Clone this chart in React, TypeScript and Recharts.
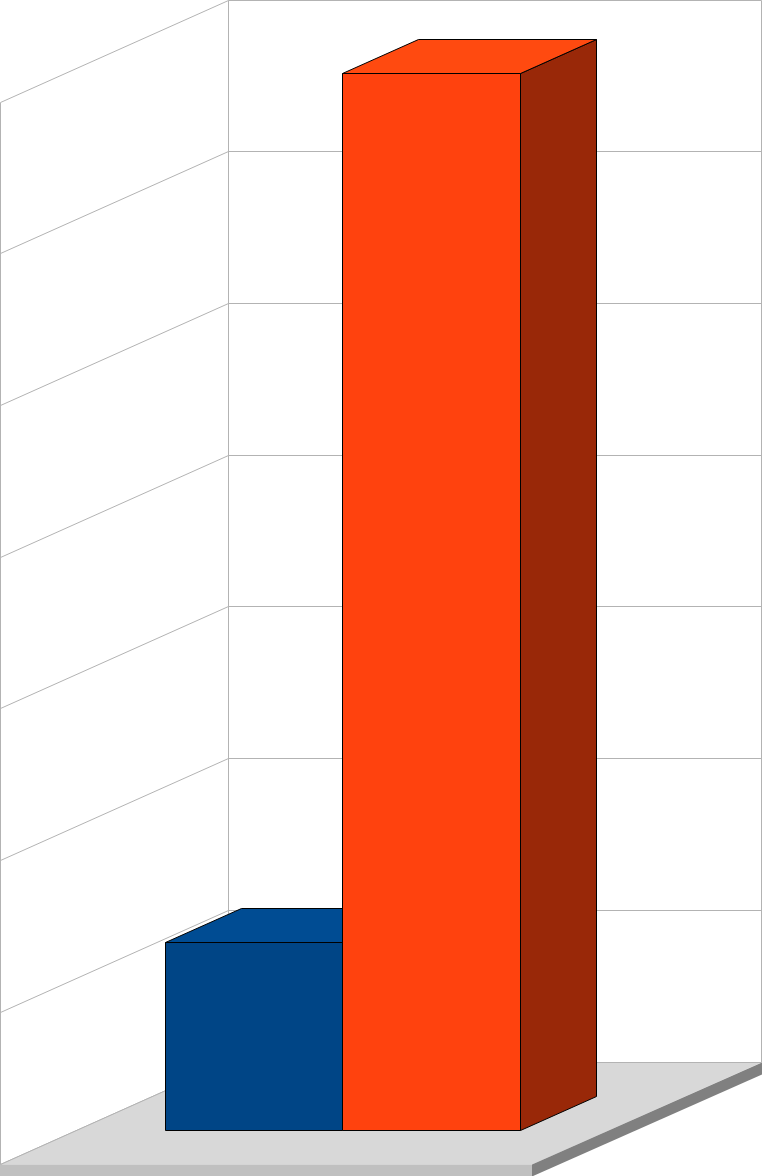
import React from "react";
import { BarChart, Bar, XAxis, YAxis, CartesianGrid, ReferenceArea } from "recharts";

const categories = ["Category 1"];
const series1 = [1.235];
const series2 = [6.965];
const yTicks = [0, 1, 2, 3, 4, 5, 6, 7];

const data = categories.map((name, i) => ({
  name,
  series1: series1[i],
  series2: series2[i],
}));

const W = 762;
const H = 1176;
const wallLine = "#b3b3b3";

// side wall runs from the back wall out to the left edge
const SIDE_DX = 228;
const SIDE_DY = 102;
// bars stand in front of the back wall
const FRONT_DX = -152.5;
const FRONT_DY = 68;
const BAR_DX = 76;
const BAR_DY = 34;
const SLAB = 12;

const snap = (v: number) => Math.floor(v) + 0.5;
const pts = (list: number[][]) => list.map((p) => p.join(",")).join(" ");

const Bar3D = (props: any) => {
  const { x, y, width, height, fill, topFill, sideFill } = props;
  const l = snap(x + FRONT_DX);
  const r = snap(x + width + FRONT_DX);
  const t = snap(y + FRONT_DY);
  const b = snap(y + height + FRONT_DY);
  return (
    <g stroke='#000' strokeWidth={1} strokeLinejoin='round'>
      <polygon
        points={pts([[r, t], [r + BAR_DX, t - BAR_DY], [r + BAR_DX, b - BAR_DY], [r, b]])}
        fill={sideFill}
      />
      <polygon
        points={pts([[l, t], [l + BAR_DX, t - BAR_DY], [r + BAR_DX, t - BAR_DY], [r, t]])}
        fill={topFill}
      />
      <rect x={l} y={t} width={r - l} height={b - t} fill={fill} />
    </g>
  );
};

// walls' edges and the floor slab, placed from the plot area
const Room = (props: any) => {
  const { x, y, width, height } = props;
  const t = snap(y);
  const b = snap(y + height);
  const fx = x - SIDE_DX; // front left of floor
  const fy = b + SIDE_DY;
  const rx = x + width;
  const cx = rx - SIDE_DX - 1.5; // floor's front right corner
  return (
    <g>
      <polygon points={pts([[fx, fy], [x, b], [rx, b], [cx, fy]])} fill='#d8d8d8' />
      <rect x={fx - 0.5} y={fy} width={cx - fx + 0.5} height={SLAB} fill='#c0c0c0' />
      <polygon
        points={pts([[cx, fy], [rx + 0.5, b], [rx + 0.5, b + SLAB], [cx, fy + SLAB]])}
        fill='#808080'
      />
      <line x1={x} y1={t} x2={x} y2={b} stroke={wallLine} />
      <line x1={rx} y1={t} x2={rx} y2={b} stroke={wallLine} />
      <line x1={fx} y1={t + SIDE_DY} x2={fx} y2={fy} stroke={wallLine} />
      <line x1={x} y1={b} x2={rx} y2={b} stroke={wallLine} />
      <line x1={x} y1={b} x2={fx} y2={fy} stroke={wallLine} />
    </g>
  );
};

// each grid line runs along the back wall and down the side wall
const GridLine = (props: any) => {
  const { x1, x2, y1 } = props;
  const y = snap(y1);
  return (
    <g stroke={wallLine} strokeWidth={1}>
      <line x1={x1} y1={y} x2={x2} y2={y} />
      <line x1={x1} y1={y} x2={x1 - SIDE_DX} y2={y + SIDE_DY} />
    </g>
  );
};

const App = () => {
  return (
    <div style={{ position: "absolute", left: 0, top: 0, width: W, height: H, background: "#fff" }}>
      <BarChart
        width={W}
        height={H}
        data={data}
        margin={{ top: 0, right: 0.5, bottom: 114, left: 228.5 }}
        barGap={0}
        barSize={177.5}
      >
        <XAxis dataKey='name' hide />
        <YAxis hide domain={[0, 7]} ticks={yTicks} />
        <CartesianGrid vertical={false} horizontal={GridLine} />
        <ReferenceArea y1={0} y2={7} shape={Room} ifOverflow='visible' />
        <Bar
          dataKey='series1'
          fill='#004586'
          isAnimationActive={false}
          shape={(p: any) => <Bar3D {...p} topFill='#004c93' sideFill='#002a50' />}
        />
        <Bar
          dataKey='series2'
          fill='#ff420e'
          isAnimationActive={false}
          shape={(p: any) => <Bar3D {...p} topFill='#ff4a10' sideFill='#992808' />}
        />
      </BarChart>
    </div>
  );
};

export default App;
